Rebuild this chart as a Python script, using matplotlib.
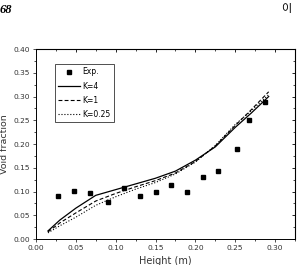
import matplotlib
matplotlib.use("Agg")
import matplotlib.pyplot as plt
from matplotlib.ticker import MultipleLocator

exp_x = [0.0275, 0.048, 0.068, 0.090, 0.110, 0.130, 0.150, 0.170, 0.189, 0.209, 0.229, 0.252, 0.267, 0.287]
exp_y = [0.091, 0.102, 0.096, 0.078, 0.107, 0.091, 0.100, 0.114, 0.098, 0.130, 0.144, 0.189, 0.251, 0.288]

h = [0.015, 0.030, 0.050, 0.075, 0.100, 0.125, 0.150, 0.175, 0.200, 0.225, 0.250, 0.270, 0.292]
k4 = [0.017, 0.040, 0.065, 0.092, 0.104, 0.116, 0.128, 0.143, 0.166, 0.194, 0.235, 0.265, 0.300]
k1 = [0.015, 0.034, 0.055, 0.080, 0.096, 0.110, 0.123, 0.139, 0.163, 0.196, 0.239, 0.272, 0.310]
k025 = [0.013, 0.028, 0.046, 0.071, 0.089, 0.105, 0.119, 0.137, 0.162, 0.197, 0.241, 0.270, 0.304]

fig = plt.figure(figsize=(3.01, 2.65), dpi=100)
ax = fig.add_axes([0.1196, 0.098, 0.8604, 0.717])

ax.plot(exp_x, exp_y, 's', color='black', markersize=3.2, label='Exp.')
ax.plot(h, k4, '-', color='black', lw=0.9, label='K=4')
ax.plot(h, k1, '--', color='black', lw=0.8, dashes=(3.5, 2), label='K=1')
ax.plot(h, k025, ':', color='black', lw=0.8, label='K=0.25')

ax.set_xlim(0, 0.325)
ax.set_ylim(0, 0.40)
ax.xaxis.set_major_locator(MultipleLocator(0.05))
ax.xaxis.set_minor_locator(MultipleLocator(0.025))
ax.yaxis.set_major_locator(MultipleLocator(0.05))
ax.yaxis.set_minor_locator(MultipleLocator(0.025))
ax.xaxis.set_major_formatter(plt.FormatStrFormatter('%.2f'))
ax.yaxis.set_major_formatter(plt.FormatStrFormatter('%.2f'))
ax.tick_params(axis='both', which='major', labelsize=5.4, colors='#333333', length=2.5, width=0.6, pad=2)
ax.tick_params(axis='both', which='minor', length=1.5, width=0.5)
for s in ax.spines.values():
    s.set_linewidth(0.7)

ax2 = ax.secondary_xaxis('top')
ax2.xaxis.set_major_locator(MultipleLocator(0.05))
ax2.xaxis.set_minor_locator(MultipleLocator(0.025))
ax2.tick_params(direction='in', labeltop=False, length=2.5, width=0.6)
ax2.tick_params(which='minor', direction='in', length=1.5, width=0.5)
ay2 = ax.secondary_yaxis('right')
ay2.yaxis.set_major_locator(MultipleLocator(0.05))
ay2.yaxis.set_minor_locator(MultipleLocator(0.025))
ay2.tick_params(direction='in', labelright=False, length=2.5, width=0.6)
ay2.tick_params(which='minor', direction='in', length=1.5, width=0.5)

ax.set_xlabel('Height (m)', fontsize=7, color='#333333', labelpad=3.5)
ax.set_ylabel('Void fraction', fontsize=6.8, color='#333333', labelpad=3)

leg = ax.legend(loc='upper left', bbox_to_anchor=(0.073, 0.921), fontsize=5.5, frameon=True,
                fancybox=False, edgecolor='black', handlelength=2.8, labelspacing=0.66,
                borderpad=0.45, handletextpad=0.3, borderaxespad=0)
leg.get_frame().set_linewidth(0.6)

fig.text(0.0, 0.985, '68', fontsize=9, fontweight='bold', fontstyle='italic', family='Liberation Serif', va='top', ha='left')
fig.text(0.935, 0.985, '이', fontsize=8, family=['Noto Sans CJK KR', 'DejaVu Sans'], va='top', ha='left')

fig.savefig('out.png', dpi=100)
